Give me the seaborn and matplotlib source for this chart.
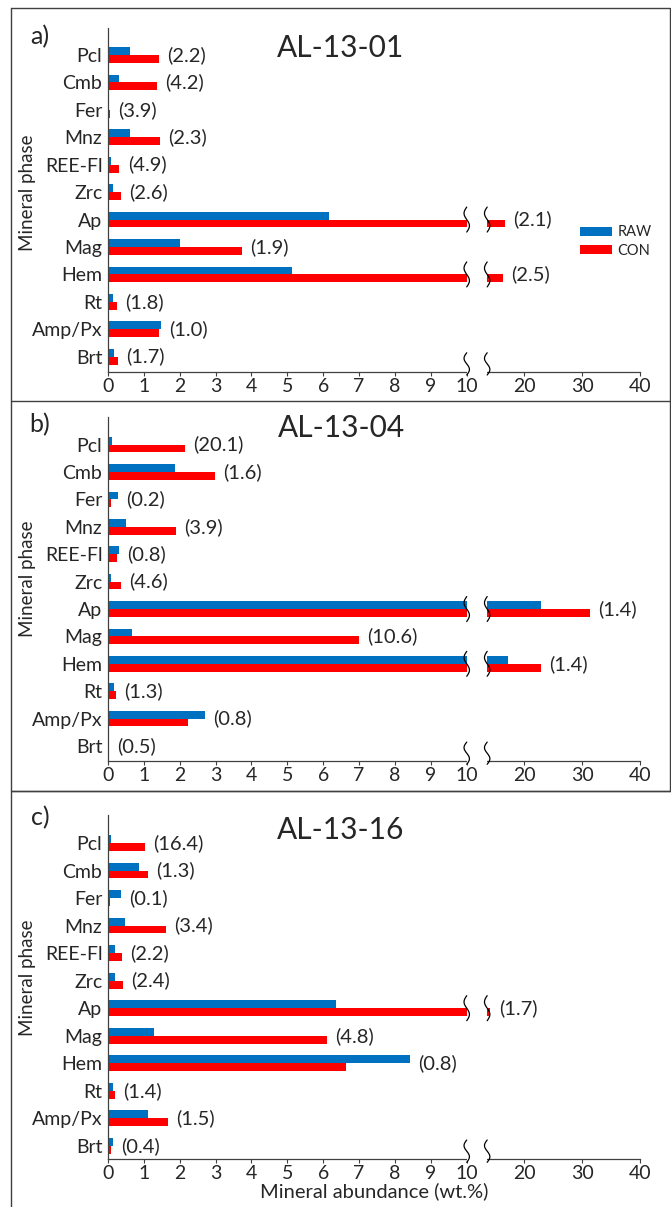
import numpy as np
import pandas as pd
import matplotlib
matplotlib.use("Agg")
import matplotlib.pyplot as plt
import seaborn as sns
from matplotlib.lines import Line2D
from matplotlib.patches import Patch
from matplotlib.ticker import NullLocator

# ---------------- data ----------------
minerals = ["Pcl", "Cmb", "Fer", "Mnz", "REE-Fl", "Zrc", "Ap", "Mag", "Hem", "Rt", "Amp/Px", "Brt"]
series_names = ["RAW", "CON"]
samples = ["AL-13-01", "AL-13-04", "AL-13-16"]
panel_letters = ["a)", "b)", "c)"]

raw_a = [0.62, 0.32, 0.03, 0.62, 0.07, 0.13, 6.17, 2.01, 5.13, 0.13, 1.47, 0.16]
con_a = [1.42, 1.36, 0.05, 1.45, 0.32, 0.36, 16.6, 3.74, 16.3, 0.24, 1.42, 0.27]
fac_a = ["(2.2)", "(4.2)", "(3.9)", "(2.3)", "(4.9)", "(2.6)", "(2.1)", "(1.9)", "(2.5)", "(1.8)", "(1.0)", "(1.7)"]

raw_b = [0.11, 1.86, 0.27, 0.49, 0.30, 0.07, 22.9, 0.66, 17.1, 0.16, 2.70, 0.02]
con_b = [2.14, 2.97, 0.07, 1.89, 0.24, 0.36, 31.3, 6.99, 22.8, 0.22, 2.22, 0.03]
fac_b = ["(20.1)", "(1.6)", "(0.2)", "(3.9)", "(0.8)", "(4.6)", "(1.4)", "(10.6)", "(1.4)", "(1.3)", "(0.8)", "(0.5)"]

raw_c = [0.07, 0.86, 0.36, 0.47, 0.19, 0.19, 6.36, 1.28, 8.42, 0.13, 1.11, 0.13]
con_c = [1.03, 1.11, 0.05, 1.61, 0.38, 0.41, 14.1, 6.11, 6.64, 0.19, 1.67, 0.07]
fac_c = ["(16.4)", "(1.3)", "(0.1)", "(3.4)", "(2.2)", "(2.4)", "(1.7)", "(4.8)", "(0.8)", "(1.4)", "(1.5)", "(0.4)"]

x_ticks = [0, 1, 2, 3, 4, 5, 6, 7, 8, 9, 10, 20, 30, 40]
x_label = "Mineral abundance (wt.%)"
y_label = "Mineral phase"

raw_all = [raw_a, raw_b, raw_c]
con_all = [con_a, con_b, con_c]
fac_all = [fac_a, fac_b, fac_c]

# ---------------- style ----------------
sns.set_style("white")
plt.rcParams["font.family"] = ["Lato", "DejaVu Sans"]
palette = {"RAW": "#0070C0", "CON": "#FF0000"}
axis_col = "#404040"

# broken axis: linear 0-10, compressed 10-40
BREAK = 10.0
K = 0.161
GAP_END = 10.57  # position where upper segment resumes


def fwd(x):
    x = np.asarray(x, dtype=float)
    return np.where(x <= BREAK, x, BREAK + (x - BREAK) * K)


def inv(p):
    p = np.asarray(p, dtype=float)
    return np.where(p <= BREAK, p, BREAK + (p - BREAK) / K)


W, H = 671, 1207
fig = plt.figure(figsize=(W / 100, H / 100), dpi=100)


def fx(px):
    return px / W


def fy(py):
    return 1 - py / H


axes_px = [(27.7, 371.7), (416.7, 761.0), (815.0, 1159.0)]
ylims = [(11.547, -0.995), (11.547, -1.02), (11.48, -1.02)]
title_px = [(341, 48), (341, 428), (341, 830)]
letter_px = [(40, 37), (40, 425), (40, 818)]
ylabel_py = [193, 579, 978]


def squiggle(ax, pos_c, y0, y1):
    t = np.linspace(0, 1, 60)
    p = pos_c - 0.075 * np.sin(2 * np.pi * t)
    y = y0 + (y1 - y0) * t
    ax.plot(inv(p), y, color="black", lw=0.9, zorder=6, clip_on=False)


for k in range(3):
    top, bot = axes_px[k]
    ax = fig.add_axes([fx(108), fy(bot), fx(640) - fx(108), (bot - top) / H])
    ax.set_xscale("function", functions=(fwd, inv))
    raw, con, fac = raw_all[k], con_all[k], fac_all[k]
    df = pd.DataFrame({
        "Mineral": minerals * 2,
        "Series": ["RAW"] * len(minerals) + ["CON"] * len(minerals),
        "Value": list(raw) + list(con),
    })
    sns.barplot(data=df, x="Value", y="Mineral", hue="Series", order=minerals,
                hue_order=series_names, palette=palette, orient="h", width=0.57,
                saturation=1, errorbar=None, legend=False, ax=ax, linewidth=0)
    ax.set_xlim(0, 40)
    ax.set_ylim(*ylims[k])
    ax.set_xticks(x_ticks)
    ax.set_xticklabels([str(t) for t in x_ticks])
    ax.xaxis.set_minor_locator(NullLocator())
    for s in ["top", "right"]:
        ax.spines[s].set_visible(False)
    for s in ["left", "bottom"]:
        ax.spines[s].set_color(axis_col)
        ax.spines[s].set_linewidth(0.9)
    ax.tick_params(axis="x", length=3, width=0.8, color=axis_col, pad=1.5,
                   labelsize=14, direction="out", bottom=True)
    ax.tick_params(axis="y", length=0, pad=4, labelsize=14, left=False)
    ax.set_ylabel("")
    ax.set_xlabel("")
    if k == 2:
        ax.set_xlabel(x_label, fontsize=14.5, labelpad=0)

    # value factor annotations
    for i, (r, c, t) in enumerate(zip(raw, con, fac)):
        ax.annotate(t, xy=(max(r, c), i), xytext=(6, 0), textcoords="offset points",
                    va="center", ha="left", fontsize=14.5, annotation_clip=False)

    # break gap
    ax.axvspan(BREAK, float(inv(GAP_END)), ymin=-0.006, ymax=1, color="white",
               lw=0, zorder=3, clip_on=False)
    for i in range(len(minerals)):
        if max(raw[i], con[i]) > BREAK:
            squiggle(ax, BREAK, i - 0.455, i + 0.455)
            squiggle(ax, GAP_END, i - 0.455, i + 0.455)
    yb = ylims[k][0]
    squiggle(ax, BREAK, yb - 0.69, yb + 0.12)
    squiggle(ax, GAP_END, yb - 0.69, yb + 0.12)

    fig.text(fx(title_px[k][0]), fy(title_px[k][1]), samples[k], fontsize=21.5,
             ha="center", va="center")
    fig.text(fx(letter_px[k][0]), fy(letter_px[k][1]), panel_letters[k], fontsize=18,
             ha="center", va="center")
    fig.text(fx(27), fy(ylabel_py[k]), y_label, fontsize=13.5, rotation=90,
             ha="center", va="center")

    if k == 0:
        handles = [Patch(facecolor=palette[n], edgecolor="none") for n in series_names]
        fig.legend(handles, series_names, loc="center left",
                   bbox_to_anchor=(fx(580), fy(241.5)), frameon=False, fontsize=10.5,
                   handlelength=2.2, handleheight=0.58, handletextpad=0.35,
                   labelspacing=0.3, borderpad=0, borderaxespad=0)

# panel frames
def fline(xs, ys):
    fig.add_artist(Line2D([fx(x) for x in xs], [fy(y) for y in ys],
                          color=axis_col, lw=1.0))

fline([11, 670, 670, 11, 11], [8.3, 8.3, 401, 401, 8.3])
fline([670, 670, 11, 11], [401, 791, 791, 401])
fline([671, 11, 11], [791, 791, 1207])

fig.savefig("out.png", dpi=100)
